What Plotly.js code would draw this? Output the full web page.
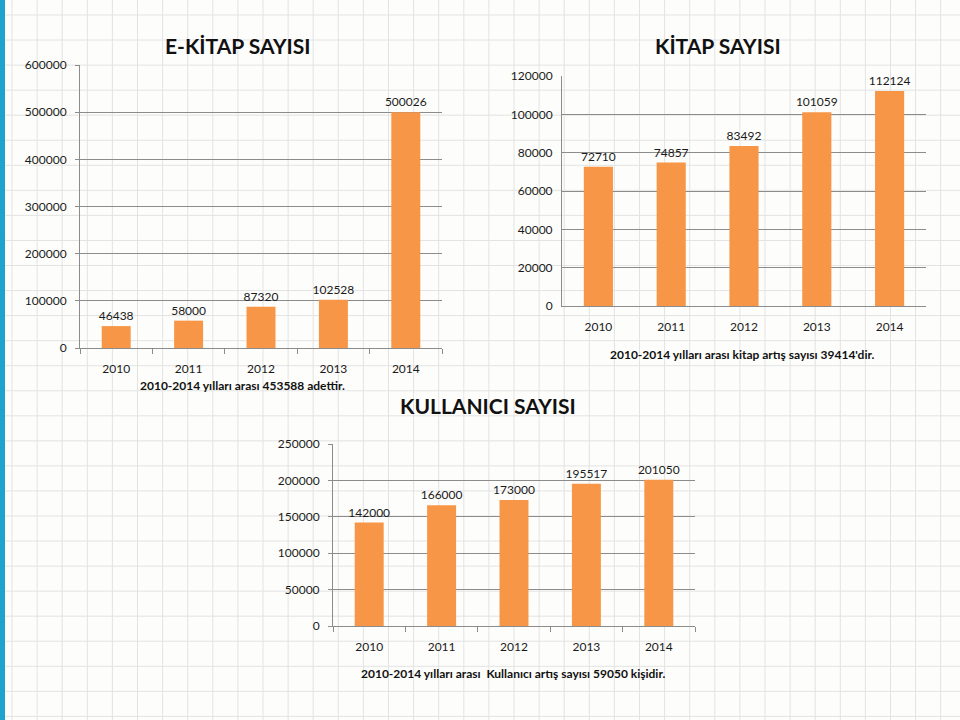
<!DOCTYPE html>
<html>
<head>
<meta charset="utf-8">
<script src="https://cdn.plot.ly/plotly-3.0.1.min.js"></script>
<style>body{margin:0;background:#fdfdfb}#grafik{width:960px;height:720px}</style>
</head>
<body>
<div id="grafik"></div>
<script>
var yillar = ['2010', '2011', '2012', '2013', '2014'];
var ekitap = [46438, 58000, 87320, 102528, 500026];
var kitap = [72710, 74857, 83492, 101059, 112124];
var kullanici = [142000, 166000, 173000, 195517, 201050];

var turuncu = '#f79646';
var gri = '#8c8c8c';
var yazi = {family: 'Lato, sans-serif', size: 12, color: '#1a1a1a'};

function cubuk(y, xa, ya) {
  return {
    type: 'bar', x: yillar, y: y, xaxis: xa, yaxis: ya,
    text: y.map(String), textposition: 'outside', constraintext: 'none',
    cliponaxis: false, textfont: yazi, marker: {color: turuncu},
    hoverinfo: 'x+y', showlegend: false
  };
}

var data = [
  cubuk(ekitap, 'x', 'y'),
  cubuk(kitap, 'x2', 'y2'),
  cubuk(kullanici, 'x3', 'y3')
];

// px -> paper
function px(a) { return a / 960; }
function py(b) { return 1 - b / 720; }

function xEksen(sol, sag, ya, tik) {
  return {
    domain: [px(sol), px(sag)], anchor: ya, type: 'category',
    showline: true, linecolor: gri, linewidth: 1, showgrid: false,
    ticks: tik ? 'outside' : '', tickson: 'boundaries', ticklen: 5, tickcolor: gri,
    ticklabelstandoff: 10, tickfont: yazi, fixedrange: true
  };
}
function yEksen(alt, ust, xa, maks, adim, tik) {
  return {
    domain: [py(alt), py(ust)], anchor: xa, range: [0, maks], dtick: adim,
    showline: true, linecolor: gri, gridcolor: gri, gridwidth: 1, zeroline: false,
    ticks: tik ? 'outside' : '', ticklen: 4, tickcolor: gri, tickformat: 'd',
    ticklabelstandoff: 6, tickfont: yazi, fixedrange: true
  };
}

// background squared paper
var sekiller = [];
for (var gx = 12; gx < 960; gx += 25.1) {
  sekiller.push({type: 'line', xref: 'paper', yref: 'paper', x0: px(gx), x1: px(gx), y0: 0, y1: 1,
    line: {color: '#e3e3e3', width: 1}, layer: 'below'});
}
for (var gy = 15; gy < 720; gy += 25.05) {
  sekiller.push({type: 'line', xref: 'paper', yref: 'paper', x0: 0, x1: 1, y0: py(gy), y1: py(gy),
    line: {color: '#e3e3e3', width: 1}, layer: 'below'});
}
sekiller.push({type: 'rect', xref: 'paper', yref: 'paper', x0: 0, x1: px(5), y0: 0, y1: 1,
  fillcolor: '#1ea3cc', line: {width: 0}, layer: 'below'});

function not(metin, x, y, boyut, kalin) {
  return {
    text: kalin ? '<b>' + metin + '</b>' : metin, xref: 'paper', yref: 'paper',
    x: px(x), y: py(y), xanchor: 'center', yanchor: 'middle', showarrow: false,
    font: {family: 'Lato, sans-serif', size: boyut, color: '#111'}
  };
}

var layout = {
  width: 960, height: 720,
  margin: {l: 0, r: 0, t: 0, b: 0},
  paper_bgcolor: '#fdfdfb', plot_bgcolor: 'rgba(0,0,0,0)',
  bargap: 0.6,
  font: yazi,
  xaxis: xEksen(80, 442, 'y', true),
  yaxis: yEksen(348, 65, 'x', 600000, 100000, true),
  xaxis2: xEksen(562, 926, 'y2', false),
  yaxis2: yEksen(306, 76, 'x2', 120000, 20000, false),
  xaxis3: xEksen(333, 695, 'y3', true),
  yaxis3: yEksen(626, 444, 'x3', 250000, 50000, true),
  shapes: sekiller,
  annotations: [
    not('E-KİTAP SAYISI', 238, 45, 21, true),
    not('2010-2014 yılları arası 453588 adettir.', 242, 385, 12, true),
    not('KİTAP SAYISI', 718, 45, 21, true),
    not("2010-2014 yılları arası kitap artış sayısı 39414'dir.", 742, 354, 12, true),
    not('KULLANICI SAYISI', 488, 405, 21, true),
    not('2010-2014 yılları arası  Kullanıcı artış sayısı 59050 kişidir.', 513, 673, 12, true)
  ]
};

Plotly.newPlot('grafik', data, layout, {displayModeBar: false, staticPlot: true});
</script>
</body>
</html>
